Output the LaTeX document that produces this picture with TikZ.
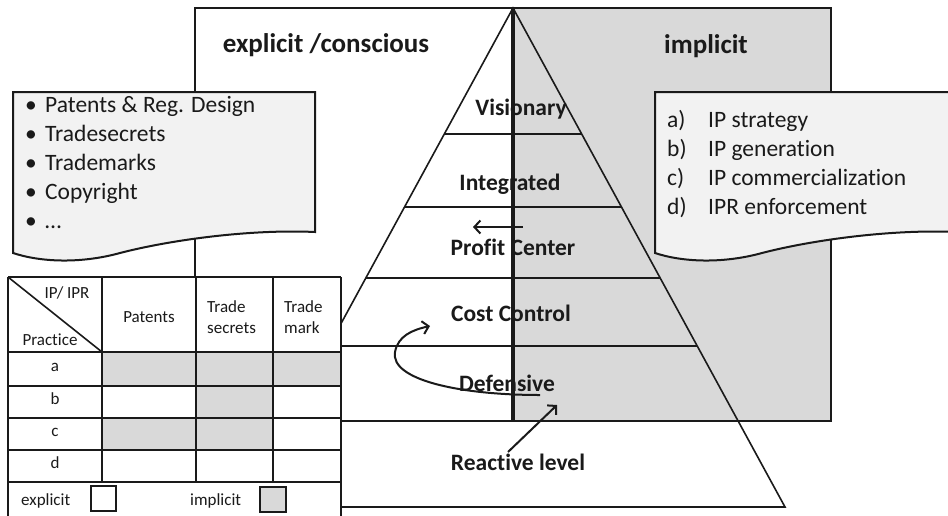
\documentclass[tikz,border=0pt]{standalone}
\usepackage{fontspec}
\setmainfont{Carlito}[Ligatures=NoCommon]
\usetikzlibrary{arrows.meta}
\definecolor{greyarea}{HTML}{D9D9D9}
\definecolor{paper}{HTML}{F2F2F2}
\definecolor{ink}{HTML}{1A1A1A}
\begin{document}
\begin{tikzpicture}[x=1pt,y=-1pt,
  frame/.style={draw=ink, line width=2pt},
  tier/.style={draw=ink, line width=2pt},
  side/.style={draw=ink, line width=1.6pt, line join=miter},
  axis/.style={draw=ink, line width=3.2pt},
  grid/.style={draw=ink, line width=1.6pt},
  doc/.style={draw=ink, line width=2pt, fill=paper},
  lvl/.style={font=\fontsize{23.5}{28}\selectfont\bfseries, text=ink, inner sep=0pt, anchor=base},
  head/.style={font=\fontsize{27}{32}\selectfont\bfseries, text=ink, inner sep=0pt, anchor=base},
  listtext/.style={font=\fontsize{23.5}{29}\selectfont, text=ink, inner sep=0pt, anchor=base west},
  cell/.style={font=\fontsize{17}{21}\selectfont, text=ink, inner sep=0pt},
  arr/.style={draw=ink, line width=2pt, -{Straight Barb[length=6pt,width=13pt]}},
]
\clip (0,0) rectangle (948,515);
\fill[white] (0,0) rectangle (948,515);

% explicit / implicit frame
\fill[white] (195,8) rectangle (513,421);
\fill[greyarea] (513,8) rectangle (831,421);
\draw[frame] (195,8) rectangle (831,421);

% pyramid with its tiers
\coordinate (apex) at (513,8);
\coordinate (baseL) at (241,507);
\coordinate (baseR) at (785,507);
\coordinate (axisEnd) at (513,421);
\begin{scope}
  \clip (apex) -- (baseL) -- (baseR) -- cycle;
  \foreach \yy in {134,207,278,346}
    \draw[tier] (150,\yy) -- (900,\yy);
\end{scope}
\draw[side] (baseL) -- (apex) -- (baseR) -- cycle;
\draw[axis] (apex) -- (axisEnd);

% headings
\node[head] (expl) at (326,52) {explicit /conscious};
\node[head] (impl) at (706,53) {implicit};

% tier labels
\node[lvl] (vis) at (521,115) {Visionary};
\node[lvl] (integ) at (510,190) {Integrated};
\node[lvl] (profit) at (513,255) {Profit Center};
\node[lvl] (cost) at (511,321) {Cost Control};
\node[lvl] (def) at (507,391) {Defensive};
\node[lvl] (react) at (518,470) {Reactive level};

% movement arrows
\coordinate (pcTail) at (523,227);
\coordinate (pcTip) at (473,227);
\draw[arr] (pcTail) -- (pcTip);
\coordinate (dfTail) at (540,395);
\coordinate (ccTip) at (430,326);
\draw[arr] (dfTail) .. controls (460,395) and (390,380) .. (395,352)
  .. controls (398,336) and (412,330) .. (ccTip);
\coordinate (rlTail) at (508,452);
\coordinate (rlTip) at (557,405);
\draw[arr] (rlTail) -- (rlTip);

% document: kinds of IP
\draw[doc] (13,92) -- (315,92) -- (315,232)
  .. controls (250,229) and (170,240) .. (120,253)
  .. controls (80,264) and (40,262) .. (13,253) -- cycle;
\foreach \txt [count=\i] in {Patents \& Reg. Design,Tradesecrets,Trademarks,Copyright,\dots}{
  \node[listtext] (bul\i) at (25,{112+29*(\i-1)}) {•};
  \node[listtext] (kind\i) at (45,{112+29*(\i-1)}) {\txt};
}

% document: IP practices
\draw[doc] (655,92) -- (957,92) -- (957,232)
  .. controls (892,229) and (812,240) .. (762,253)
  .. controls (722,264) and (682,262) .. (655,253) -- cycle;
\foreach \lab/\txt [count=\i] in {a)/IP strategy,b)/IP generation,c)/IP commercialization,d)/IPR enforcement}{
  \node[listtext] (plab\i) at (667,{127+29*(\i-1)}) {\lab};
  \node[listtext] (ptxt\i) at (708,{127+29*(\i-1)}) {\txt};
}

% practice / IPR table
\fill[white] (8,277) rectangle (341,520);
\fill[greyarea] (102,352) rectangle (341,386);
\fill[greyarea] (196,386) rectangle (273,418);
\fill[greyarea] (102,418) rectangle (273,450);
\foreach \yy in {277,352,386,418,450,482}
  \draw[grid] (8,\yy) -- (341,\yy);
\foreach \xx in {8,341}
  \draw[grid] (\xx,277) -- (\xx,520);
\foreach \xx in {102,196,273}
  \draw[grid] (\xx,277) -- (\xx,482);
\draw[grid] (8,277) -- (102,352);

\node[cell, anchor=base] (hIPR) at (67,298) {IP/ IPR};
\node[cell, anchor=base] (hPrac) at (50,345) {Practice};
\node[cell, anchor=base] (hPat) at (149,322) {Patents};
\node[cell, anchor=base west] (hTs1) at (207,312) {Trade};
\node[cell, anchor=base west] (hTs2) at (207,333) {secrets};
\node[cell, anchor=base west] (hTm1) at (284,312) {Trade};
\node[cell, anchor=base west] (hTm2) at (284,333) {mark};
\foreach \r/\yy in {a/369,b/402,c/434,d/466}
  \node[cell, anchor=mid] (row\r) at (55,\yy) {\r};

% legend
\node[cell, anchor=base west] (legE) at (21,505) {explicit};
\draw[grid, fill=white] (91,486) rectangle (116,511);
\node[cell, anchor=base west] (legI) at (190,505) {implicit};
\draw[grid, fill=greyarea] (260,487) rectangle (286,512);
\end{tikzpicture}
\end{document}
